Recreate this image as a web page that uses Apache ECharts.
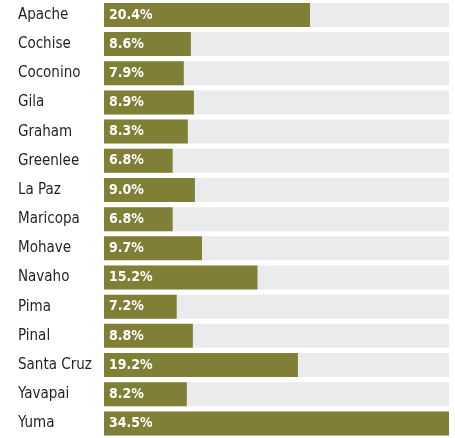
<!DOCTYPE html>
<html>
<head>
<meta charset="utf-8">
<script src="https://cdn.jsdelivr.net/npm/echarts@6/dist/echarts.min.js"></script>
<style>
  html, body { margin: 0; padding: 0; background: #fff; }
  #chart { width: 455px; height: 438px; }
</style>
</head>
<body>
<div id="chart"></div>
<script>
const counties = ['Apache', 'Cochise', 'Coconino', 'Gila', 'Graham', 'Greenlee', 'La Paz',
  'Maricopa', 'Mohave', 'Navaho', 'Pima', 'Pinal', 'Santa Cruz', 'Yavapai', 'Yuma'];
const rates = [20.4, 8.6, 7.9, 8.9, 8.3, 6.8, 9.0, 6.8, 9.7, 15.2, 7.2, 8.8, 19.2, 8.2, 34.5];

const FONT = "'DejaVu Sans Condensed', Roboto, sans-serif";

const chart = echarts.init(document.getElementById('chart'));

chart.setOption({
  animation: false,
  grid: { left: 104, right: 6, top: 0.3, height: 440.4 },
  xAxis: {
    type: 'value',
    min: 0,
    max: 34.16,
    show: false
  },
  yAxis: {
    type: 'category',
    data: counties,
    inverse: true,
    axisLine: { show: false },
    axisTick: { show: false },
    axisLabel: {
      align: 'left',
      margin: 86,
      color: '#231f20',
      fontFamily: FONT,
      fontSize: 15
    }
  },
  series: [{
    type: 'bar',
    data: rates,
    barWidth: 24,
    clip: true,
    itemStyle: { color: '#7f7f35' },
    showBackground: true,
    backgroundStyle: { color: '#ebebed' },
    label: {
      show: true,
      position: 'insideLeft',
      distance: 5,
      color: '#fff',
      fontWeight: 'bold',
      fontFamily: FONT,
      fontSize: 14,
      formatter: p => p.value.toFixed(1) + '%'
    }
  }]
});
</script>
</body>
</html>
